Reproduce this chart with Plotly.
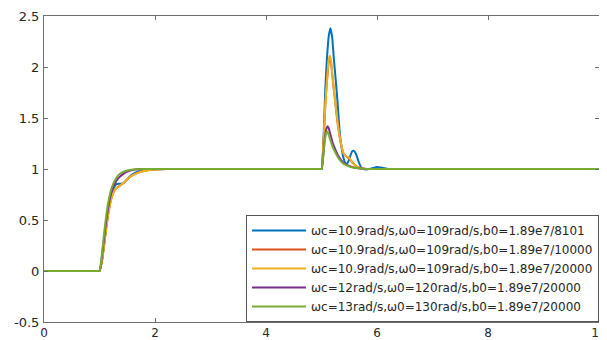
import plotly.graph_objects as go

# ---- data ----
t_blue = [0, 0.5, 0.95, 1.0, 1.05, 1.1, 1.15, 1.2, 1.25, 1.3, 1.35, 1.4, 1.45, 1.5, 1.6, 1.7, 1.8, 1.9, 2.0, 2.2,
          2.6, 3.5, 4.5, 4.95, 5.0, 5.02, 5.04, 5.07, 5.1, 5.13, 5.16, 5.19, 5.22, 5.26, 5.29, 5.33, 5.37,
          5.4, 5.44, 5.48, 5.52, 5.55, 5.58, 5.62, 5.67, 5.72, 5.8, 5.9, 6.0, 6.1, 6.2, 6.4, 7.0, 8.5, 10]
y_blue = [0, 0, 0, 0, 0.12, 0.34, 0.56, 0.72, 0.81, 0.85, 0.855, 0.855, 0.87, 0.9, 0.95, 0.975, 0.985, 0.993, 0.997, 1.0,
          1.0, 1.0, 1.0, 1.0, 1.0, 1.1, 1.35, 1.8, 2.1, 2.3, 2.38, 2.3, 2.1, 1.85, 1.65, 1.35, 1.18,
          1.1, 1.05, 1.07, 1.13, 1.17, 1.18, 1.15, 1.07, 1.01, 0.995, 1.005, 1.02, 1.012, 1.0, 1.0, 1.0, 1.0, 1.0]

t_orange = [0, 0.5, 0.95, 1.0, 1.05, 1.1, 1.15, 1.2, 1.25, 1.3, 1.35, 1.4, 1.45, 1.5, 1.6, 1.7, 1.8, 1.9, 2.0, 2.2,
            2.6, 3.5, 4.5, 4.95, 5.0, 5.02, 5.04, 5.07, 5.1, 5.13, 5.15, 5.17, 5.2, 5.25, 5.3, 5.35, 5.4, 5.45,
            5.5, 5.55, 5.6, 5.7, 5.8, 6.0, 7.0, 8.5, 10]
y_orange = [0, 0, 0, 0, 0.12, 0.33, 0.53, 0.68, 0.77, 0.81, 0.83, 0.85, 0.87, 0.9, 0.94, 0.965, 0.98, 0.99, 0.995, 1.0,
            1.0, 1.0, 1.0, 1.0, 1.0, 1.1, 1.3, 1.64, 1.87, 2.05, 2.09, 2.05, 1.89, 1.64, 1.41, 1.25, 1.15, 1.125,
            1.1, 1.07, 1.04, 1.01, 1.0, 1.0, 1.0, 1.0, 1.0]

t_yellow = [0, 0.5, 0.95, 1.0, 1.05, 1.1, 1.15, 1.2, 1.25, 1.3, 1.35, 1.4, 1.45, 1.5, 1.6, 1.7, 1.8, 1.9, 2.0, 2.2,
            2.6, 3.5, 4.5, 4.95, 5.0, 5.02, 5.04, 5.07, 5.1, 5.13, 5.15, 5.17, 5.2, 5.25, 5.3, 5.35, 5.4, 5.45,
            5.5, 5.55, 5.6, 5.7, 5.8, 6.0, 7.0, 8.5, 10]
y_yellow = [0, 0, 0, 0, 0.12, 0.33, 0.53, 0.68, 0.77, 0.81, 0.83, 0.85, 0.87, 0.9, 0.94, 0.965, 0.98, 0.99, 0.995, 1.0,
            1.0, 1.0, 1.0, 1.0, 1.0, 1.1, 1.3, 1.65, 1.88, 2.07, 2.11, 2.07, 1.9, 1.65, 1.42, 1.25, 1.15, 1.125,
            1.11, 1.07, 1.04, 1.01, 1.0, 1.0, 1.0, 1.0, 1.0]

t_purple = [0, 0.5, 0.95, 1.0, 1.05, 1.1, 1.15, 1.2, 1.25, 1.3, 1.35, 1.4, 1.45, 1.5, 1.6, 1.7, 1.8,
            2.2, 3.5, 4.5, 4.95, 5.0, 5.03, 5.06, 5.09, 5.11, 5.13, 5.15, 5.2, 5.25, 5.3, 5.35, 5.4, 5.5,
            5.6, 5.7, 5.8, 6.0, 7.0, 8.5, 10]
y_purple = [0, 0, 0, 0, 0.17, 0.4, 0.6, 0.74, 0.83, 0.88, 0.915, 0.94, 0.96, 0.975, 0.99, 0.997, 1.0,
            1.0, 1.0, 1.0, 1.0, 1.0, 1.12, 1.3, 1.4, 1.42, 1.4, 1.36, 1.26, 1.19, 1.13, 1.09, 1.06, 1.03,
            1.012, 1.005, 1.0, 1.0, 1.0, 1.0, 1.0]

t_green = [0, 0.5, 0.95, 1.0, 1.05, 1.1, 1.15, 1.2, 1.25, 1.3, 1.35, 1.4, 1.5, 1.6, 1.7, 1.8,
           2.2, 3.5, 4.5, 4.95, 5.0, 5.03, 5.06, 5.09, 5.1, 5.12, 5.15, 5.2, 5.25, 5.3, 5.35, 5.4, 5.5,
           5.6, 5.7, 5.8, 6.0, 7.0, 8.5, 10]
y_green = [0, 0, 0, 0, 0.2, 0.45, 0.65, 0.78, 0.86, 0.91, 0.945, 0.965, 0.985, 0.994, 0.998, 1.0,
           1.0, 1.0, 1.0, 1.0, 1.0, 1.12, 1.28, 1.36, 1.37, 1.35, 1.3, 1.22, 1.16, 1.11, 1.075, 1.05, 1.025,
           1.012, 1.005, 1.0, 1.0, 1.0, 1.0, 1.0]

names = [
    "ωc=10.9rad/s,ω0=109rad/s,b0=1.89e7/8101",
    "ωc=10.9rad/s,ω0=109rad/s,b0=1.89e7/10000",
    "ωc=10.9rad/s,ω0=109rad/s,b0=1.89e7/20000",
    "ωc=12rad/s,ω0=120rad/s,b0=1.89e7/20000",
    "ωc=13rad/s,ω0=130rad/s,b0=1.89e7/20000",
]
colors = ["#0072BD", "#D95319", "#EDB120", "#7E2F8E", "#77AC30"]

x_ticks = [0, 2, 4, 6, 8, 10]
y_ticks = [-0.5, 0, 0.5, 1, 1.5, 2, 2.5]
y_ticktext = ["-0.5", "0", "0.5", "1", "1.5", "2", "2.5"]

series = [(t_blue, y_blue), (t_orange, y_orange), (t_yellow, y_yellow),
          (t_purple, y_purple), (t_green, y_green)]

fig = go.Figure()
for (tx, ty), nm, c in zip(series, names, colors):
    fig.add_trace(go.Scatter(x=tx, y=ty, mode="lines", name=nm,
                             line=dict(color=c, width=2, shape="spline", smoothing=0.5)))

axis_common = dict(showgrid=False, zeroline=False, showline=True, linecolor="#6e6e6e",
                   linewidth=1, mirror="ticks", ticks="inside", ticklen=4, tickcolor="#6e6e6e",
                   automargin=False, ticklabeloverflow="allow")

# page body has an 8px margin, so the figure is sized to fit the 607x340 window
fig.update_layout(
    width=599, height=332,
    margin=dict(l=36, r=8, t=8, b=18, pad=0),
    paper_bgcolor="white", plot_bgcolor="white",
    xaxis=dict(range=[0, 10], tickvals=x_ticks, ticklabelstandoff=0,
               tickfont=dict(family="DejaVu Sans", size=12, color="#262626"), **axis_common),
    yaxis=dict(range=[-0.5, 2.5], tickvals=y_ticks, ticktext=y_ticktext, ticklabelstandoff=1,
               tickfont=dict(family="DejaVu Sans", size=13, color="#262626"), **axis_common),
    legend=dict(x=1, y=0, xanchor="right", yanchor="bottom", bgcolor="white",
                bordercolor="#555555", borderwidth=1, itemwidth=54,
                font=dict(family="DejaVu Sans", size=12, color="#262626"),
                tracegroupgap=0),
    showlegend=True,
)

fig.write_html("out.html")
